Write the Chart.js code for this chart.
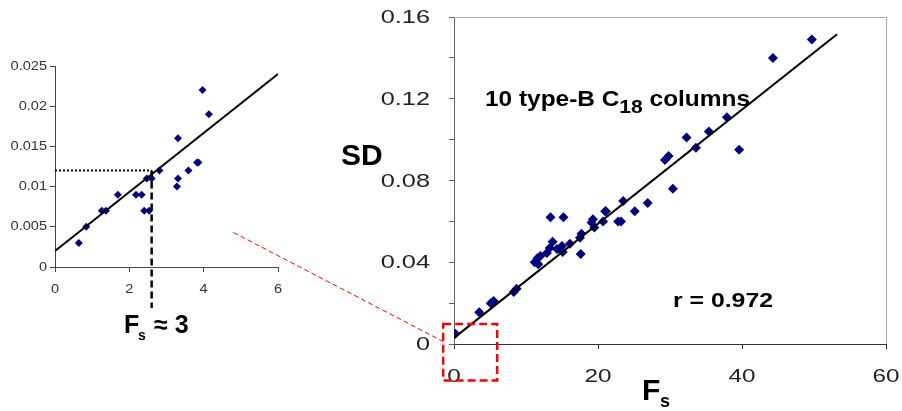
<!DOCTYPE html>
<html>
<head>
<meta charset="utf-8">
<script src="https://cdn.jsdelivr.net/npm/chart.js@4"></script>
<style>
    html, body { margin: 0; padding: 0; background: #fff; }
    #wrap { position: relative; width: 902px; height: 411px; overflow: hidden; }
    canvas { position: absolute; left: 0; top: 0; }
</style>
</head>
<body>
<div id="wrap">
    <canvas id="graficoDetalhe" width="300" height="345"></canvas>
    <canvas id="graficoPrincipal" width="902" height="411"></canvas>
</div>
<script>
// inset: low-Fs region
const smallF = [0.64, 0.84, 1.26, 1.37, 1.69, 2.18, 2.33, 2.40, 2.53, 2.47,
    2.60, 2.81, 3.28, 3.31, 3.31, 3.59, 3.82, 3.86, 3.97, 4.14];
const smallSD = [0.003, 0.005, 0.007, 0.007, 0.009, 0.009, 0.009, 0.007, 0.007, 0.011,
    0.011, 0.012, 0.010, 0.011, 0.016, 0.012, 0.013, 0.013, 0.022, 0.019];
const smallFitF = [0, 6];
const smallFitSD = [0.002, 0.024];
const smallXLabels = ["0", "2", "4", "6"];
const smallYLabels = ["0", "0.005", "0.01", "0.015", "0.02", "0.025"];
const readF = 2.6;
const readSD = 0.012;

// main plot: all columns
const bigF = [0.2, 3.5, 5.1, 5.5, 8.3, 8.7, 11.2, 11.7, 11.6, 12.0,
    12.9, 13.3, 13.7, 14.3, 15.0, 15.1, 16.1, 17.5, 17.6, 17.7,
    13.4, 15.2, 19.1, 19.3, 19.5, 20.7, 21.0, 21.1, 22.8, 23.2,
    23.5, 25.1, 26.9, 29.3, 29.8, 30.4, 32.3, 33.6, 35.4, 37.9,
    39.6, 44.3, 49.7];
const bigSD = [0.005, 0.0155, 0.020, 0.021, 0.0255, 0.027, 0.040, 0.039, 0.042, 0.043,
    0.0445, 0.047, 0.050, 0.0465, 0.048, 0.045, 0.049, 0.052, 0.044, 0.054,
    0.062, 0.062, 0.0595, 0.061, 0.057, 0.060, 0.065, 0.065, 0.060, 0.060,
    0.070, 0.065, 0.069, 0.090, 0.092, 0.076, 0.101, 0.096, 0.104, 0.111,
    0.095, 0.140, 0.149];
const bigFitF = [0, 53.2];
const bigFitSD = [0.003, 0.1516];
const bigXLabels = ["0", "20", "40", "60"];
const bigYLabels = ["0", "0.04", "0.08", "0.12", "0.16"];

const fonte = '"Liberation Sans", Arial, sans-serif';
const azul = "#000080";

function pontos(xs, ys) {
    return xs.map((x, i) => ({ x, y: ys[i] }));
}

// text squeezed/stretched horizontally like the old office charts
function texto(ctx, str, x, y, font, align, sx, color) {
    ctx.save();
    ctx.font = font;
    ctx.fillStyle = color || "#000";
    ctx.textAlign = align;
    ctx.textBaseline = "middle";
    ctx.translate(x, y);
    ctx.scale(sx, 1);
    ctx.fillText(str, 0, 0);
    ctx.restore();
}

function eixo(color, size) {
    return {
        border: { display: true, color, width: 1 },
        grid: {
            display: true,
            drawOnChartArea: false,
            drawTicks: true,
            tickLength: 5,
            color
        },
        ticks: { display: false },
        afterFit: s => {
            if (s.isHorizontal()) {
                s.height = size;
            } else {
                s.width = size;
            }
        }
    };
}

const rotulosPequeno = {
    id: "rotulosPequeno",
    afterDraw(chart) {
        const ctx = chart.ctx;
        const x = chart.scales.x;
        const y = chart.scales.y;
        const f = "13px " + fonte;

        smallXLabels.forEach(l =>
            texto(ctx, l, x.getPixelForValue(parseFloat(l)), 289, f, "center", 1.12, "#333"));
        smallYLabels.forEach(l =>
            texto(ctx, l, 47, y.getPixelForValue(parseFloat(l)), f, "right", 1.12, "#333"));

        const px = x.getPixelForValue(readF);
        const py = y.getPixelForValue(readSD);

        ctx.save();
        ctx.strokeStyle = "#000";
        ctx.lineWidth = 2;
        ctx.setLineDash([2, 2]);
        ctx.beginPath();
        ctx.moveTo(x.left, py);
        ctx.lineTo(px, py);
        ctx.stroke();

        ctx.lineWidth = 2.5;
        ctx.setLineDash([7, 4]);
        ctx.beginPath();
        ctx.moveTo(px, py);
        ctx.lineTo(px, 308);
        ctx.stroke();
        ctx.restore();

        ctx.save();
        ctx.fillStyle = "#000";
        ctx.textBaseline = "alphabetic";
        ctx.font = "bold 25px " + fonte;
        ctx.fillText("F", 124, 333);
        ctx.font = "bold 14px " + fonte;
        ctx.fillText("s", 138, 340);
        ctx.font = "bold 25px " + fonte;
        ctx.fillText("\u2248 3", 154, 333);
        ctx.restore();
    }
};

const graficoDetalhe = new Chart(
    document.getElementById("graficoDetalhe"),
    {
        type: "scatter",
        data: {
            datasets: [
                {
                    data: pontos(smallFitF, smallFitSD),
                    showLine: true,
                    borderColor: "#000",
                    borderWidth: 2,
                    pointRadius: 0,
                    order: 0
                },
                {
                    data: pontos(smallF, smallSD),
                    pointStyle: "rectRot",
                    pointRadius: 4,
                    backgroundColor: azul,
                    borderWidth: 0,
                    order: 1
                }
            ]
        },
        options: {
            responsive: false,
            animation: false,
            events: [],
            layout: { padding: { left: 0, top: 66, right: 22, bottom: 0 } },
            plugins: { legend: { display: false }, tooltip: { enabled: false } },
            scales: {
                x: { ...eixo("#444", 78), min: 0, max: 6, ticks: { display: false, stepSize: 2 } },
                y: { ...eixo("#444", 55), min: 0, max: 0.025, ticks: { display: false, stepSize: 0.005 } }
            }
        },
        plugins: [rotulosPequeno]
    }
);

const rotulosPrincipal = {
    id: "rotulosPrincipal",
    beforeDatasetsDraw(chart) {
        const { ctx, chartArea: a } = chart;
        ctx.save();
        ctx.strokeStyle = "#a8a8a8";
        ctx.lineWidth = 1;
        ctx.beginPath();
        ctx.moveTo(a.left, a.top + 0.5);
        ctx.lineTo(a.right + 0.5, a.top + 0.5);
        ctx.lineTo(a.right + 0.5, a.bottom);
        ctx.stroke();
        ctx.restore();
    },
    afterDraw(chart) {
        const ctx = chart.ctx;
        const x = chart.scales.x;
        const y = chart.scales.y;

        bigXLabels.forEach(l =>
            texto(ctx, l, x.getPixelForValue(parseFloat(l)), 377, "18px " + fonte, "center", 1.35, "#222"));
        bigYLabels.forEach(l =>
            texto(ctx, l, 430, y.getPixelForValue(parseFloat(l)) + 1, "18.5px " + fonte, "right", 1.37, "#222"));

        ctx.save();
        ctx.fillStyle = "#000";
        ctx.textBaseline = "alphabetic";

        ctx.font = "bold 30px " + fonte;
        ctx.fillText("SD", 341, 165);

        ctx.font = "bold 30px " + fonte;
        ctx.fillText("F", 642, 400);
        ctx.font = "bold 18px " + fonte;
        ctx.fillText("s", 660, 407);

        // "10 type-B C18 columns", fitted to its width
        const f1 = "bold 22px " + fonte;
        const f2 = "bold 19px " + fonte;
        ctx.font = f1;
        const w1 = ctx.measureText("10 type-B C").width;
        const w3 = ctx.measureText(" columns").width;
        ctx.font = f2;
        const w2 = ctx.measureText("18").width;
        ctx.translate(485, 106);
        ctx.scale(265 / (w1 + w2 + w3), 1);
        ctx.font = f1;
        ctx.fillText("10 type-B C", 0, 0);
        ctx.font = f2;
        ctx.fillText("18", w1, 7);
        ctx.font = f1;
        ctx.fillText(" columns", w1 + w2, 0);
        ctx.restore();

        ctx.save();
        ctx.font = "bold 21px " + fonte;
        ctx.textBaseline = "alphabetic";
        const wr = ctx.measureText("r = 0.972").width;
        ctx.translate(673, 307);
        ctx.scale(100 / wr, 1);
        ctx.fillText("r = 0.972", 0, 0);
        ctx.restore();

        // zoom box around the origin and the leader to the inset
        const bx0 = x.getPixelForValue(-1.5);
        const bx1 = x.getPixelForValue(6);
        const by0 = y.getPixelForValue(0.0098);
        const by1 = y.getPixelForValue(-0.0178);
        const sx = graficoDetalhe.scales.x.getPixelForValue(4.8);
        const sy = graficoDetalhe.scales.y.getPixelForValue(0.0043);

        ctx.save();
        ctx.strokeStyle = "#ff0000";
        ctx.lineWidth = 1;
        ctx.setLineDash([5, 3]);
        ctx.beginPath();
        ctx.moveTo(sx, sy);
        ctx.lineTo(bx0, y.getPixelForValue(0.0012));
        ctx.stroke();

        ctx.lineWidth = 2.5;
        ctx.setLineDash([8, 4]);
        ctx.strokeRect(bx0, by0, bx1 - bx0, by1 - by0);
        ctx.restore();
    }
};

new Chart(
    document.getElementById("graficoPrincipal"),
    {
        type: "scatter",
        data: {
            datasets: [
                {
                    data: pontos(bigFitF, bigFitSD),
                    showLine: true,
                    borderColor: "#000",
                    borderWidth: 2,
                    pointRadius: 0,
                    order: 0
                },
                {
                    data: pontos(bigF, bigSD),
                    pointStyle: "rectRot",
                    pointRadius: 5,
                    backgroundColor: azul,
                    borderWidth: 0,
                    order: 1
                }
            ]
        },
        options: {
            responsive: false,
            animation: false,
            events: [],
            layout: { padding: { left: 0, top: 17, right: 16, bottom: 0 } },
            plugins: { legend: { display: false }, tooltip: { enabled: false } },
            scales: {
                x: { ...eixo("#333", 67), min: 0, max: 60, ticks: { display: false, stepSize: 20 } },
                y: { ...eixo("#666", 454), min: 0, max: 0.16, ticks: { display: false, stepSize: 0.02 } }
            }
        },
        plugins: [rotulosPrincipal]
    }
);
</script>
</body>
</html>
